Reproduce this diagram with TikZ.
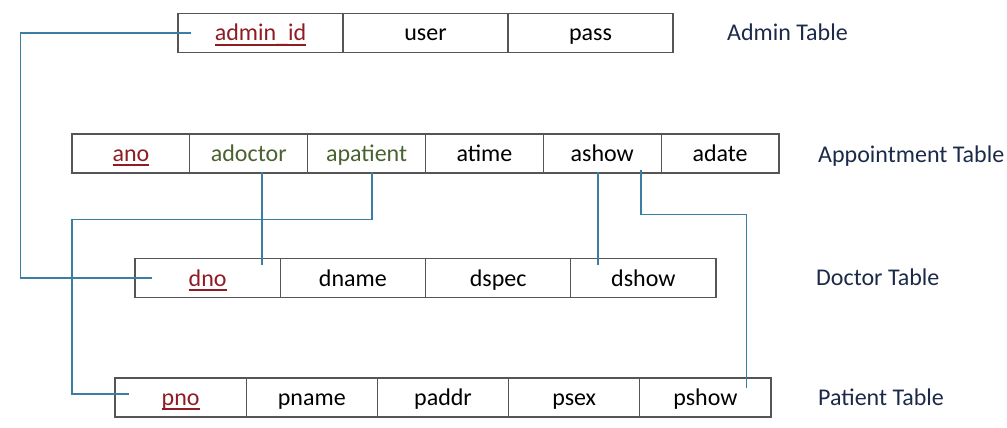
\documentclass[tikz,border=0pt]{standalone}
\usepackage{fontspec}
\setmainfont{Carlito}
\definecolor{tabgray}{HTML}{555555}
\definecolor{keyred}{HTML}{8E1C22}
\definecolor{fkgreen}{HTML}{4A6130}
\definecolor{navy}{HTML}{1C2A4A}
\definecolor{linkblue}{HTML}{3A7EA3}
\newcommand\keyul[1]{\setbox0\hbox{#1}\rlap{\rule[-4.6pt]{\wd0}{1.9pt}}\box0}
\begin{document}
\begin{tikzpicture}[x=1pt,y=-1pt,
  cell/.style={draw=tabgray, line width=1.3pt, inner sep=0pt, minimum height=39pt, anchor=center, text height=20pt, text depth=4pt, font=\fontsize{24}{28}\selectfont},
  keycell/.style={cell, text=keyred},
  fkcell/.style={cell, text=fkgreen},
  tlabel/.style={anchor=west, inner sep=0pt, text height=20pt, text depth=4pt, text=navy, font=\fontsize{24}{28}\selectfont},
  link/.style={draw=linkblue, line width=1.2pt}]
\useasboundingbox (0,0) rectangle (1007,428);
% Admin table
\begin{scope}[every node/.append style={minimum width=165pt, minimum height=38pt}]
\node[keycell] (adminid) at (260.5,33) {\keyul{admin\raisebox{-1.5pt}{\_}id}};
\node[cell] (user) at (425.5,33) {user};
\node[cell] (pass) at (590.5,33) {pass};
\end{scope}
\node[tlabel] (lbadmin) at (727,33) {Admin Table};
% Appointment table
\begin{scope}[every node/.append style={minimum width=117.83pt}]
\node[keycell] (ano) at (130.92,153.5) {\keyul{ano}};
\node[fkcell] (adoctor) at (248.75,153.5) {adoctor};
\node[fkcell] (apatient) at (366.58,153.5) {apatient};
\node[cell] (atime) at (484.42,153.5) {atime};
\node[cell] (ashow) at (602.25,153.5) {ashow};
\node[cell] (adate) at (720.08,153.5) {adate};
\end{scope}
\node[tlabel] (lbappt) at (818,154) {Appointment Table};
% Doctor table
\begin{scope}[every node/.append style={minimum width=145.25pt, minimum height=38pt}]
\node[keycell] (dno) at (207.63,278) {\keyul{dno}};
\node[cell] (dname) at (352.88,278) {dname};
\node[cell] (dspec) at (498.13,278) {dspec};
\node[cell] (dshow) at (643.38,278) {dshow};
\end{scope}
\node[tlabel] (lbdoc) at (816,277) {Doctor Table};
% Patient table
\begin{scope}[every node/.append style={minimum width=131.2pt}]
\node[keycell] (pno) at (180.6,397.5) {\keyul{pno}};
\node[cell] (pname) at (311.8,397.5) {pname};
\node[cell] (paddr) at (443,397.5) {paddr};
\node[cell] (psex) at (574.2,397.5) {psex};
\node[cell] (pshow) at (705.4,397.5) {pshow};
\end{scope}
\node[tlabel] (lbpat) at (818,397) {Patient Table};
% Connectors
\draw[link] ([xshift=14pt]adminid.west) -- ++(-170.5,0) |- ([xshift=18pt]dno.west);
\draw[link] ([xshift=13.25pt,yshift=2pt]adoctor.south) -- ([xshift=54.37pt,yshift=-7pt]dno.north);
\draw[link] ([xshift=5.42pt,yshift=2pt]apatient.south) -- ++(0,47.5) -- ++(-300,0) |- ([xshift=15pt,yshift=3.5pt]pno.west);
\draw[link] ([xshift=-4.25pt,yshift=2pt]ashow.south) -- ([xshift=-45.38pt,yshift=-7pt]dshow.north);
\draw[link] ([xshift=38.75pt,yshift=4pt]ashow.south) -- ++(0,45) -| ([xshift=41.35pt,yshift=-11pt]pshow.north);
\end{tikzpicture}
\end{document}
